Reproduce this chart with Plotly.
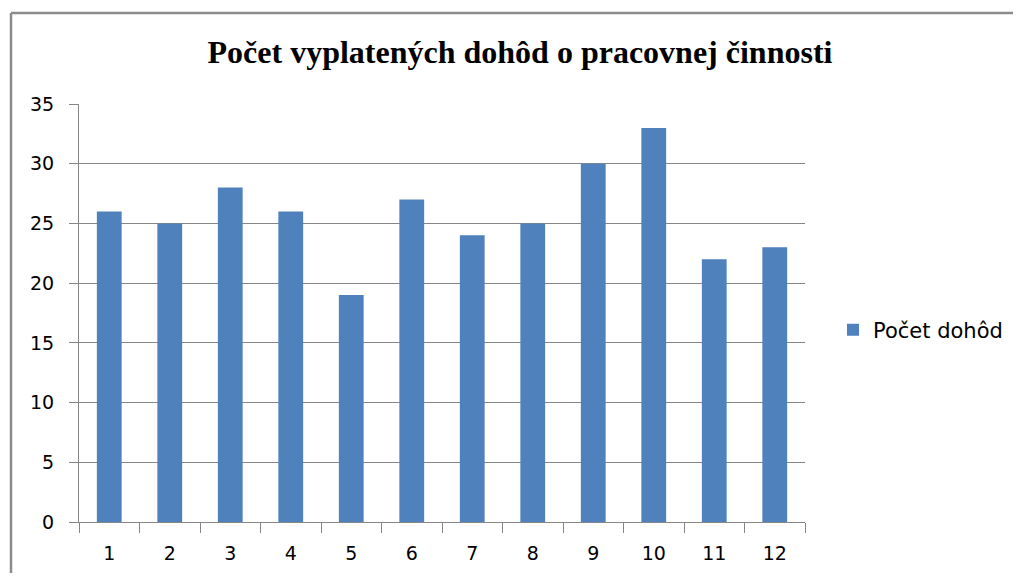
import plotly.graph_objects as go

categories = ["1", "2", "3", "4", "5", "6", "7", "8", "9", "10", "11", "12"]
values = [26, 25, 28, 26, 19, 27, 24, 25, 30, 33, 22, 23]
series_name = "Počet dohôd"
title_text = "Počet vyplatených dohôd o pracovnej činnosti"
y_ticks = [0, 5, 10, 15, 20, 25, 30, 35]

OFF = 8  # page body margin
W, H = 1021 - 2 * OFF, 581 - 2 * OFF
L, R, T, B = 79 - OFF, 805 - OFF, 104 - OFF, 522 - OFF

def px_x(p):
    return (p - OFF - L) / (R - L)

def px_y(p):
    return (B - (p - OFF)) / (B - T)

grey = "#868686"
frame_grey = "#8c8c8c"
font_main = "DejaVu Sans"

fig = go.Figure()
fig.add_trace(go.Bar(
    x=categories, y=values, name=series_name,
    marker=dict(color="#4F81BD", line=dict(width=0)),
    showlegend=True,
))

fig.update_layout(
    width=W, height=H,
    margin=dict(l=L, r=W - R, t=T, b=H - B, autoexpand=False),
    paper_bgcolor="white", plot_bgcolor="white",
    bargap=0.59,
    title=dict(
        text=title_text,
        font=dict(family="Liberation Serif", size=32, color="black", weight="bold"),
        x=(520 - OFF) / W, xanchor="center", xref="container",
        y=1 - (52 - OFF) / H, yanchor="middle", yref="container",
    ),
    showlegend=True,
    legend=dict(
        x=px_x(833), xanchor="left",
        y=px_y(330), yanchor="middle",
        font=dict(family=font_main, size=21, color="black"),
        bgcolor="rgba(0,0,0,0)", borderwidth=0,
    ),
    xaxis=dict(
        type="category",
        showline=True, linecolor=grey, linewidth=1,
        ticks="outside", tickson="boundaries", ticklen=10, tickcolor=grey, tickwidth=1,
        showgrid=False,
        tickfont=dict(family=font_main, size=19, color="black"),
        ticklabelstandoff=14,
    ),
    yaxis=dict(
        range=[0, 35], tickmode="array", tickvals=y_ticks,
        showline=True, linecolor=grey, linewidth=1,
        ticks="outside", ticklen=9, tickcolor=grey, tickwidth=1,
        showgrid=True, gridcolor=grey, gridwidth=1,
        zeroline=False,
        tickfont=dict(family=font_main, size=19, color="black"),
        ticklabelstandoff=11,
    ),
    shapes=[
        dict(type="line", xref="paper", yref="paper",
             x0=px_x(11), x1=px_x(1040), y0=px_y(13), y1=px_y(13),
             line=dict(color=frame_grey, width=2.5), layer="below"),
        dict(type="line", xref="paper", yref="paper",
             x0=px_x(11), x1=px_x(11), y0=px_y(13), y1=px_y(620),
             line=dict(color=frame_grey, width=2.5), layer="below"),
    ],
)

fig.write_html("out.html")
